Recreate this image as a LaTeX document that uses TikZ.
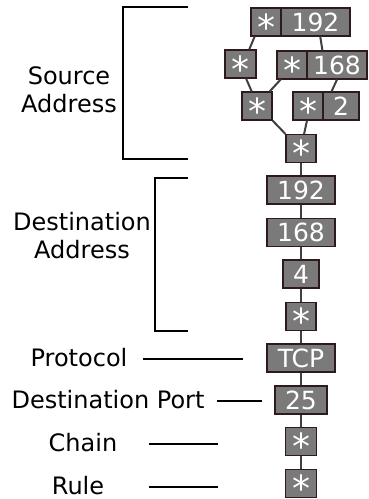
\documentclass[tikz,border=0pt]{standalone}
\usepackage{fontspec}
\setmainfont{DejaVu Sans}
% large centred asterisk used as the wildcard mark in cells
\newcommand\cellstar{\smash{\raisebox{-18pt}{\fontsize{36}{36}\selectfont *}}}
\begin{document}
\begin{tikzpicture}[x=1pt,y=-1pt,
  cell/.style={draw=cellborder, fill=cellfill, text=white, line width=1.1pt,
    minimum height=28pt, inner sep=0pt, font=\fontsize{25}{25}\selectfont},
  link/.style={draw=linkgray, line width=2pt},
  lbl/.style={font=\fontsize{24}{28}\selectfont, align=center, inner sep=0pt},
  rule/.style={draw=black, line width=1.3pt}]
\definecolor{cellfill}{HTML}{7A7A7A}
\definecolor{cellborder}{HTML}{2E1A1A}
\definecolor{linkgray}{HTML}{404040}
\useasboundingbox (0,0) rectangle (368,499);

% source address trie
\node[cell, minimum width=30pt] (sa1)  at (266,22)   {\cellstar};
\node[cell, minimum width=69pt] (sa1n) at (315.5,22) {192};
\node[cell, minimum width=31pt] (sa2l) at (240.5,64) {\cellstar};
\node[cell, minimum width=30pt] (sa2)  at (292,65)   {\cellstar};
\node[cell, minimum width=60pt] (sa2n) at (337,65)   {168};
\node[cell, minimum width=30pt] (sa3l) at (257,106)  {\cellstar};
\node[cell, minimum width=30pt] (sa3)  at (308,106)  {\cellstar};
\node[cell, minimum width=36pt] (sa3n) at (341,106)  {2};
\node[cell, minimum width=30pt] (sa4)  at (301,148.5) {\cellstar};

% destination address chain
\node[cell, minimum width=68pt] (da1) at (301,190)   {192};
\node[cell, minimum width=68pt] (da2) at (301,232.5) {168};
\node[cell, minimum width=36pt] (da3) at (301,274)   {4};
\node[cell, minimum width=30pt] (da4) at (301,316.5) {\cellstar};

% protocol, port, chain, rule
\node[cell, minimum width=68pt] (pr) at (301,358)   {TCP};
\node[cell, minimum width=52pt] (dp) at (301,400)   {25};
\node[cell, minimum width=31pt] (ch) at (301,441.5) {\cellstar};
\node[cell, minimum width=31pt] (ru) at (301,483.5) {\cellstar};

% links between levels
\draw[link] (sa1.232) -- (sa2l.59);
\draw[link] (sa1n.288) -- (sa2n.135);
\draw[link] (sa2l.291) -- (sa3l.110);
\draw[link] (sa2.232) -- (sa3l.49);
\draw[link] (sa2n.south) -- (sa3n.123);
\draw[link] (sa3l.south east) -- (sa4.north west);
\draw[link] (sa3.266) -- (sa4.78);
\draw[link] (sa4) -- (da1);
\draw[link] (da1) -- (da2);
\draw[link] (da2) -- (da3);
\draw[link] (da3) -- (da4);
\draw[link] (da4) -- (pr);
\draw[link] (pr) -- (dp);
\draw[link] (dp) -- (ch);
\draw[link] (ch) -- (ru);

% field labels
\node[lbl] (lsrc) at (69,90)  {Source\\Address};
\node[lbl] (ldst) at (82,236) {Destination\\Address};
\node[lbl] (lpr)  at (79,358) {Protocol};
\node[lbl] (ldp)  at (108,400) {Destination Port};
\node[lbl] (lch)  at (83,443) {Chain};
\node[lbl] (lru)  at (78,486) {Rule};

% brackets
\draw[rule] (188,7) -- (123,7) -- (123,159) -- (188,159);
\draw[rule] (188,178) -- (155,178) -- (155,331) -- (188,331);

% leader lines
\coordinate (p1) at (143,359); \coordinate (p2) at (243,359);
\coordinate (d1) at (217,401); \coordinate (d2) at (262,401);
\coordinate (c1) at (149,444); \coordinate (c2) at (218,444);
\coordinate (r1) at (149,487); \coordinate (r2) at (218,487);
\draw[rule] (p1) -- (p2);
\draw[rule] (d1) -- (d2);
\draw[rule] (c1) -- (c2);
\draw[rule] (r1) -- (r2);
\end{tikzpicture}
\end{document}
